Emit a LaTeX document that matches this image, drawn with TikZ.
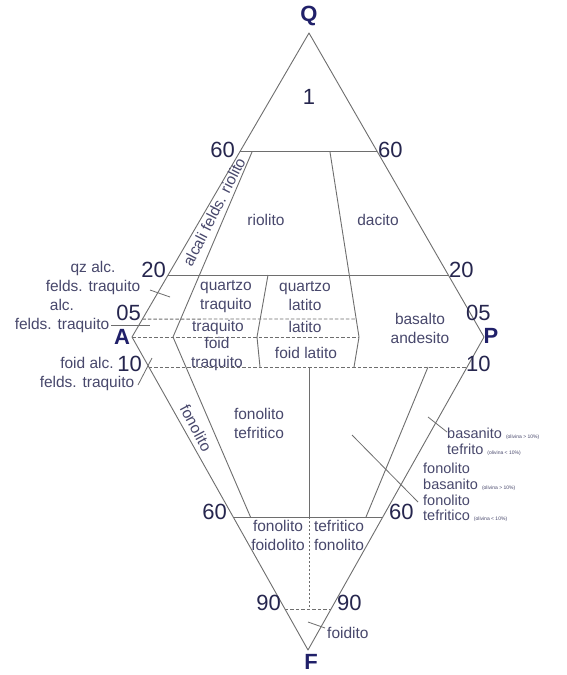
\documentclass[tikz,border=0pt]{standalone}
\usepackage{fontspec}
\setmainfont{Liberation Sans}
\usetikzlibrary{calc}
\definecolor{linc}{RGB}{110,110,110}
\definecolor{lblc}{RGB}{72,72,108}
\definecolor{numc}{RGB}{38,38,78}
\definecolor{vtxc}{RGB}{32,32,105}
\newcommand{\smtxt}[1]{{\fontsize{5}{6}\selectfont #1}}
\begin{document}
\begin{tikzpicture}[x=1pt,y=-1pt,
  ln/.style={draw=linc,line width=0.9pt,line join=round},
  dsh/.style={ln,dash pattern=on 3.5pt off 2pt},
  dot/.style={ln,dash pattern=on 2pt off 2pt},
  lead/.style={draw=linc,line width=0.8pt},
  lbl/.style={text=lblc,font=\fontsize{15.5}{19}\selectfont,inner sep=0pt,align=center},
  side/.style={text=lblc,font=\fontsize{14.5}{15.7}\selectfont,inner sep=0pt,align=left},
  num/.style={text=numc,font=\fontsize{22}{24}\selectfont,inner sep=0pt},
  vtx/.style={text=vtxc,font=\fontsize{22}{24}\selectfont\bfseries,inner sep=0pt}]
\useasboundingbox[fill=white] (0,0) rectangle (566,675);
% vertices
\coordinate (Q) at (309,33);
\coordinate (A) at (132,337);
\coordinate (P) at (484,337);
\coordinate (F) at (308,650);
% edge points
\coordinate (q60L) at ($(Q)!0.391!(A)$);
\coordinate (q60R) at ($(Q)!0.391!(P)$);
\coordinate (q20L) at ($(Q)!0.796!(A)$);
\coordinate (q20R) at ($(Q)!0.796!(P)$);
\coordinate (q05L) at ($(Q)!0.941!(A)$);
\coordinate (f10L) at ($(A)!0.096!(F)$);
\coordinate (f10R) at ($(P)!0.096!(F)$);
\coordinate (f60L) at ($(A)!0.575!(F)$);
\coordinate (f60R) at ($(P)!0.575!(F)$);
\coordinate (f90L) at ($(A)!0.869!(F)$);
\coordinate (f90R) at ($(P)!0.869!(F)$);
% interior points
\coordinate (a1) at (252,152);
\coordinate (a2) at (173,337);
\coordinate (a3) at (250.5,517);
\coordinate (d1) at (330,152);
\coordinate (d05) at (356,319);
\coordinate (d2) at (359,337);
\coordinate (d3) at (354,367);
\coordinate (t1) at (268,275);
\coordinate (t2) at (257,337);
\coordinate (t3) at (260,367);
\coordinate (v1) at (309,367);
\coordinate (v2) at (309,517);
\coordinate (v3) at (309,609);
\coordinate (r1) at (428,367);
\coordinate (r2) at (366,517);
% outline
\draw[ln] (Q) -- (A) -- (F) -- (P) -- cycle;
% solid lines
\draw[ln] (q60L) -- (q60R);
\draw[ln] (q20L) -- (q20R);
\draw[ln] (f60L) -- (f60R);
\draw[ln] (a1) -- (a2) -- (a3);
\draw[ln] (d1) -- (d2) -- (d3);
\draw[ln] (t1) -- (t2) -- (t3);
\draw[ln] (v1) -- (v2);
\draw[ln] (r1) -- (r2);
% dashed lines
\draw[dsh] (q05L) -- (d05);
\draw[dsh] (A) -- (d2);
\draw[dsh] (f10L) -- (f10R);
\draw[dsh] (f90L) -- (f90R);
\draw[dot] (v2) -- (v3);
% vertex labels
\node[vtx] (lQ) at (309,16) {Q};
\node[vtx] (lA) at (122,337) {A};
\node[vtx] (lP) at (491,336) {P};
\node[vtx] (lF) at (311,662) {F};
% numbers
\node[num] (n1) at (309,97) {1};
\node[num,anchor=east] (n60l) at (235,150) {60};
\node[num,anchor=west] (n60r) at (378,150) {60};
\node[num,anchor=east] (n20l) at (166,270) {20};
\node[num,anchor=west] (n20r) at (449,270) {20};
\node[num,anchor=east] (n05l) at (141,313) {05};
\node[num,anchor=west] (n05r) at (466,313) {05};
\node[num,anchor=east] (n10l) at (142,364) {10};
\node[num,anchor=west] (n10r) at (466,364) {10};
\node[num,anchor=east] (n60bl) at (227,512) {60};
\node[num,anchor=west] (n60br) at (389,512) {60};
\node[num,anchor=east] (n90l) at (281,603) {90};
\node[num,anchor=west] (n90r) at (337,603) {90};
% field labels
\node[lbl] (riol) at (266,220) {riolito};
\node[lbl] (dac) at (378,220) {dacito};
\node[lbl,rotate=63] (afr) at (214,212) {alcali felds. riolito};
\node[lbl] (qtr) at (226,297) {quartzo\\traquito};
\node[lbl] (qlat) at (305,296) {quartzo\\latito};
\node[lbl] (tr) at (218,327) {traquito};
\node[lbl] (lat) at (305,327) {latito};
\node[lbl] (ftr) at (217,354) {foid\\traquito};
\node[lbl] (flat) at (306,353) {foid latito};
\node[lbl] (bas) at (420,328) {basalto\\andesito};
\node[lbl,rotate=-62] (fon) at (196,428) {fonolito};
\node[lbl] (fontef) at (259,423) {fonolito\\tefritico};
\node[lbl] (fonfoid) at (278,535) {fonolito\\foidolito};
\node[lbl] (teffon) at (339,535) {tefritico\\fonolito};
\node[lbl,anchor=west] (foidito) at (327,633) {foidito};
% left side labels
\node[lbl] (qzalc) at (93,278) {qz alc.\\felds. traquito};
\node[lbl] (alc) at (62,316) {alc.\\felds. traquito};
\node[lbl] (foidalc) at (87,374) {foid alc.\\felds. traquito};
% right side labels
\node[side,anchor=north west] (basan) at (447,428) {basanito \smtxt{(olivina > 10\%)}\\tefrito \smtxt{(olivina < 10\%)}};
\node[side,anchor=north west] (fonbas) at (423,463) {fonolito\\basanito \smtxt{(olivina > 10\%)}\\fonolito\\tefritico \smtxt{(olivina < 10\%)}};
% leader lines
\coordinate (k1) at (150,290); \coordinate (k1e) at (170,297);
\coordinate (k2) at (111,325); \coordinate (k2e) at (150,325);
\coordinate (k3) at (138,385); \coordinate (k3e) at (152,358);
\coordinate (k4) at (428,417); \coordinate (k4e) at (447,432);
\coordinate (k5) at (352,435); \coordinate (k5e) at (418,502);
\coordinate (k6) at (308,622); \coordinate (k6e) at (325,628);
\draw[lead] (k1) -- (k1e);
\draw[lead] (k2) -- (k2e);
\draw[lead] (k3) -- (k3e);
\draw[lead] (k4) -- (k4e);
\draw[lead] (k5) -- (k5e);
\draw[lead] (k6) -- (k6e);
\end{tikzpicture}
\end{document}
